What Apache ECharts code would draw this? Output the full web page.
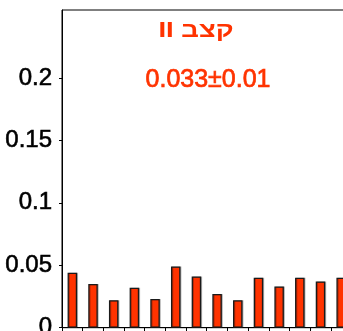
<!DOCTYPE html>
<html>
<head>
<meta charset="utf-8">
<script src="https://cdn.jsdelivr.net/npm/echarts@6/dist/echarts.min.js"></script>
<style>
  html, body { margin: 0; padding: 0; background: #fff; }
  #chart { width: 343px; height: 331px; }
</style>
</head>
<body>
<div id="chart"></div>
<script>
// Interval values per sample
const categories = ['1', '2', '3', '4', '5', '6', '7', '8', '9', '10', '11', '12', '13', '14'];
const values = [0.044, 0.035, 0.022, 0.032, 0.023, 0.049, 0.041, 0.027, 0.022, 0.040, 0.033, 0.040, 0.037, 0.040];
const yTickValues = [0, 0.05, 0.1, 0.15, 0.2];
const yTickLabels = ['0', '0.05', '0.1', '0.15', '0.2'];
const titleLine = 'II קצב';
const statLine = '0.033±0.01';

const red = '#ff3300';
const chart = echarts.init(document.getElementById('chart'));

chart.setOption({
  animation: false,
  grid: {
    left: 62, top: 10, right: -8.5, bottom: 3.3,
    outerBoundsMode: 'none',
    show: true, borderColor: '#000', borderWidth: 1, backgroundColor: 'transparent'
  },
  xAxis: {
    type: 'category',
    data: categories,
    axisLine: { lineStyle: { color: '#000', width: 1 } },
    axisTick: { show: true, length: 5, lineStyle: { color: '#000' } },
    axisLabel: { show: false }
  },
  yAxis: {
    type: 'value',
    min: 0,
    max: 0.2545,
    splitLine: { show: false },
    axisLine: { show: true, lineStyle: { color: '#000', width: 1 } },
    axisTick: { show: true, length: 3, customValues: yTickValues, lineStyle: { color: '#000' } },
    axisLabel: {
      customValues: yTickValues,
      formatter: v => yTickLabels[yTickValues.findIndex(t => Math.abs(t - v) < 1e-9)],
      margin: 10,
      color: '#000',
      fontFamily: 'Liberation Sans',
      fontSize: 24,
      textBorderColor: '#000',
      textBorderWidth: 0.6
    }
  },
  series: [{
    type: 'bar',
    data: values,
    barWidth: 9.5,
    itemStyle: {
      color: red,
      borderColor: '#1a1a1a',
      borderWidth: 1.3,
      shadowColor: 'rgba(0,0,0,0.25)',
      shadowOffsetX: 1,
      shadowOffsetY: 0,
      shadowBlur: 0
    }
  }],
  graphic: [
    {
      type: 'text', x: 196, y: 31,
      scaleX: 1.25,
      style: {
        text: titleLine, fill: red, align: 'center', verticalAlign: 'middle',
        font: 'bold 22px "Liberation Sans"'
      }
    },
    {
      type: 'text', x: 208, y: 80,
      style: {
        text: statLine, fill: red, align: 'center', verticalAlign: 'middle',
        font: '25px "Liberation Sans"',
        stroke: red, lineWidth: 0.7
      }
    }
  ]
});
</script>
</body>
</html>
